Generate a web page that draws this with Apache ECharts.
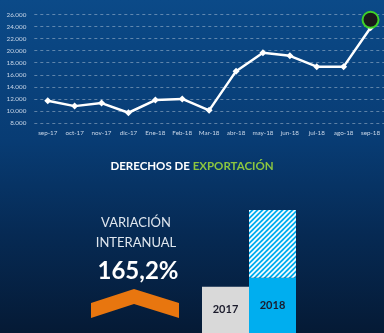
<!DOCTYPE html>
<html>
<head>
<meta charset="utf-8">
<script src="https://cdn.jsdelivr.net/npm/echarts@6/dist/echarts.min.js"></script>
<style>
html,body{margin:0;padding:0;background:#051a35;}
#c{width:384px;height:333px;}
</style>
</head>
<body>
<div id="c"></div>
<script>
// ---- data ----
var months = ['sep-17','oct-17','nov-17','dic-17','Ene-18','Feb-18','Mar-18','abr-18','may-18','jun-18','jul-18','ago-18','sep-18'];
var values = [11700, 10800, 11300, 9700, 11800, 12000, 10100, 16600, 19650, 19150, 17350, 17350, 23800];
var yTicks = { min: 8000, max: 26000, interval: 2000 };
var years = ['2017', '2018'];
var yearBase = [100, 119];        // solid part of each bar
var yearExtra = ['-', 146.2];     // hatched part (2018 total = 265.2)
var variationLabel = '165,2%';

// ---- hatch pattern ----
function hatch() {
  var s = 5;
  var c = document.createElement('canvas');
  c.width = s; c.height = s;
  var g = c.getContext('2d');
  g.fillStyle = '#00aeef';
  g.fillRect(0, 0, s, s);
  g.strokeStyle = '#ffffff';
  g.lineWidth = 1.6;
  g.beginPath();
  g.moveTo(-1, s + 1); g.lineTo(s + 1, -1);
  g.moveTo(-1, 1); g.lineTo(1, -1);
  g.moveTo(s - 1, s + 1); g.lineTo(s + 1, s - 1);
  g.stroke();
  return c;
}

var fmt = function (v) { return String(v).replace(/\B(?=(\d{3})+(?!\d))/g, '.'); };
var last = months.length - 1;

var chart = echarts.init(document.getElementById('c'), null, { renderer: 'canvas' });
chart.setOption({
  animation: false,
  backgroundColor: {
    type: 'linear', x: 0, y: 0, x2: 0, y2: 1,
    colorStops: [
      { offset: 0, color: '#0b4a88' },
      { offset: 0.42, color: '#083c74' },
      { offset: 0.7, color: '#062a54' },
      { offset: 1, color: '#051a35' }
    ]
  },
  title: {
    text: '{a|DERECHOS DE }{b|EXPORTACIÓN}',
    left: 'center', top: 155,
    textStyle: {
      rich: {
        a: { color: '#ffffff', fontFamily: 'Lato', fontWeight: 'bold', fontSize: 11.5 },
        b: { color: '#8cc63f', fontFamily: 'Lato', fontWeight: 'bold', fontSize: 11.5 }
      }
    }
  },
  grid: [
    { left: 34.3, right: -5.3, top: 14.5, bottom: 210 },
    { left: 202, width: 94, top: 194, bottom: -2 }
  ],
  xAxis: [
    {
      type: 'category', data: months, gridIndex: 0, boundaryGap: true,
      axisLine: { show: false }, axisTick: { show: false },
      axisLabel: { color: '#c8d6e8', fontSize: 6.3, fontFamily: 'Lato', margin: 7, interval: 0 }
    },
    {
      type: 'category', data: years, gridIndex: 1,
      axisLine: { show: false }, axisTick: { show: false }, axisLabel: { show: false }
    }
  ],
  yAxis: [
    {
      type: 'value', gridIndex: 0, min: yTicks.min, max: yTicks.max, interval: yTicks.interval,
      axisLine: { show: false }, axisTick: { show: false },
      axisLabel: { color: '#c8d6e8', fontSize: 6.3, fontFamily: 'Lato', margin: 8, formatter: fmt },
      splitLine: { show: true, lineStyle: { color: 'rgba(255,255,255,0.35)', type: [3, 3], width: 1 } }
    },
    {
      type: 'value', gridIndex: 1, min: 0, max: 300,
      show: false, splitLine: { show: false }
    }
  ],
  graphic: [
    { type: 'text', x: 136, y: 223, style: { text: 'VARIACIÓN', fill: '#dfe6ee', font: '13px Lato', align: 'center', verticalAlign: 'middle' } },
    { type: 'text', x: 136, y: 243, style: { text: 'INTERANUAL', fill: '#dfe6ee', font: '13px Lato', align: 'center', verticalAlign: 'middle' } },
    { type: 'text', x: 138, y: 271, style: { text: variationLabel, fill: '#ffffff', font: 'bold 24px Lato', align: 'center', verticalAlign: 'middle' } },
    { type: 'polygon', shape: { points: [[91, 303], [134, 289], [179, 303], [179, 318], [134, 304], [91, 318]] }, style: { fill: '#e8760f' } }
  ],
  series: [
    {
      type: 'line', data: values, xAxisIndex: 0, yAxisIndex: 0,
      lineStyle: { color: '#ffffff', width: 2.5 },
      itemStyle: { color: '#ffffff' },
      symbol: 'diamond', symbolSize: 7, showSymbol: true,
      markPoint: {
        symbol: 'circle', symbolSize: 16, symbolOffset: [0, -8],
        itemStyle: { color: '#1a1a1a', borderColor: '#3fd12a', borderWidth: 2 },
        label: { show: false },
        data: [{ coord: [months[last], values[last]] }]
      }
    },
    {
      type: 'bar', data: yearBase, xAxisIndex: 1, yAxisIndex: 1, stack: 'y',
      barCategoryGap: '0%', barGap: '0%',
      itemStyle: { color: function (p) { return p.dataIndex === 0 ? '#d9d9d9' : '#00aeef'; } },
      label: {
        show: true, position: 'inside', formatter: '{b}',
        color: '#1b1b2b', fontFamily: 'Lato', fontWeight: 'bold', fontSize: 11
      }
    },
    {
      type: 'bar', data: yearExtra, xAxisIndex: 1, yAxisIndex: 1, stack: 'y',
      barCategoryGap: '0%', barGap: '0%',
      itemStyle: { color: { image: hatch(), repeat: 'repeat' } }
    }
  ]
});
</script>
</body>
</html>
